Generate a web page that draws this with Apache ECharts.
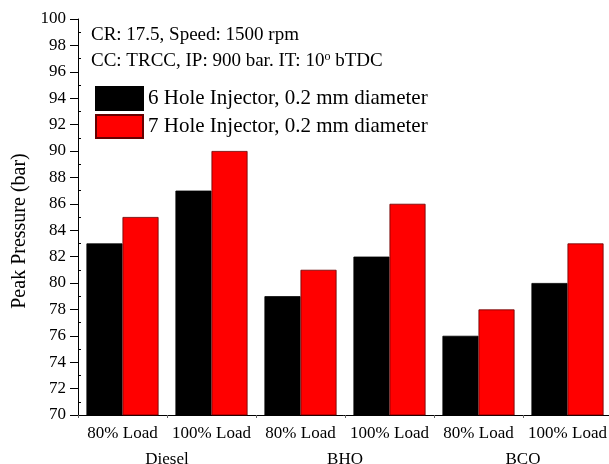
<!DOCTYPE html>
<html><head><meta charset="utf-8">
<script src="https://cdn.jsdelivr.net/npm/echarts@6/dist/echarts.min.js"></script>
<style>html,body{margin:0;padding:0;background:#fff}#c{width:609px;height:464px}</style>
</head><body><div id="c"></div>
<script>
const loads = ['80% Load','100% Load','80% Load','100% Load','80% Load','100% Load'];
const fuels = ['Diesel','BHO','BCO'];
const sixHole = [83, 87, 79, 82, 76, 80];
const sevenHole = [85, 90, 81, 86, 78, 83];
const seriesNames = ['6 Hole Injector, 0.2 mm diameter','7 Hole Injector, 0.2 mm diameter'];
const yMin = 70, yMax = 100, yStep = 2;

const font = '"Liberation Serif","Times New Roman",serif';
const chart = echarts.init(document.getElementById('c'), null, {renderer:'canvas'});
chart.setOption({
  animation: false,
  backgroundColor: '#fff',
  textStyle: {fontFamily: font},
  title: [
    {text: 'CR: 17.5, Speed: 1500 rpm', left: 91, top: 26, padding: 0,
     textStyle: {fontFamily: font, fontSize: 19, fontWeight: 'normal', color: '#000'}},
    {text: 'CC: TRCC, IP: 900 bar. IT: 10{sup|o} bTDC', left: 91, top: 51, padding: 0,
     textStyle: {fontFamily: font, fontSize: 19, fontWeight: 'normal', color: '#000',
       rich: {sup: {fontFamily: font, fontSize: 12, verticalAlign: 'top', padding: [0,0,9,0], color:'#000'}}}}
  ],
  legend: {
    orient: 'vertical', left: 95, top: 86, itemWidth: 47, itemHeight: 23, itemGap: 3,
    padding: 0, icon: 'rect',
    textStyle: {fontFamily: font, fontSize: 21, color: '#000', padding: [0,0,0,0]},
    data: seriesNames
  },
  grid: {left: 78, right: -3, top: 19, bottom: 49, containLabel: false, outerBoundsMode: 'none'},
  xAxis: [
    {type: 'category', data: loads, position: 'bottom',
     axisLine: {lineStyle: {color: '#000', width: 1}},
     axisTick: {show: true, interval: 0, length: 3, lineStyle: {color: '#666'}},
     axisLabel: {interval: 0, fontFamily: font, fontSize: 17, color: '#000', margin: 10}},
    {type: 'category', data: fuels, position: 'bottom', offset: 0,
     axisLine: {show: false}, axisTick: {show: false},
     axisLabel: {interval: 0, fontFamily: font, fontSize: 17, color: '#000', margin: 36}}
  ],
  yAxis: {
    type: 'value', min: yMin, max: yMax, interval: yStep,
    name: 'Peak Pressure (bar)', nameLocation: 'middle', nameGap: 47, nameRotate: 90,
    nameTextStyle: {fontFamily: font, fontSize: 20, color: '#000', padding: [0, 28, 0, 0]},
    axisLine: {show: true, lineStyle: {color: '#000', width: 1}},
    axisTick: {show: true, length: 8, lineStyle: {color: '#000'}},
    minorTick: {show: true, splitNumber: 2, length: -3, lineStyle: {color: '#000'}},
    splitLine: {show: false},
    axisLabel: {fontFamily: font, fontSize: 17, color: '#000', margin: 12}
  },
  series: [
    {name: seriesNames[0], type: 'bar', data: sixHole, barGap: '0%', barCategoryGap: '19%',
     itemStyle: {color: '#000', borderColor: '#000', borderWidth: 0.8}},
    {name: seriesNames[1], type: 'bar', data: sevenHole, barGap: '0%', barCategoryGap: '19%',
     itemStyle: {color: '#ff0000', borderColor: '#600', borderWidth: 0.8}}
  ]
});
</script></body></html>
